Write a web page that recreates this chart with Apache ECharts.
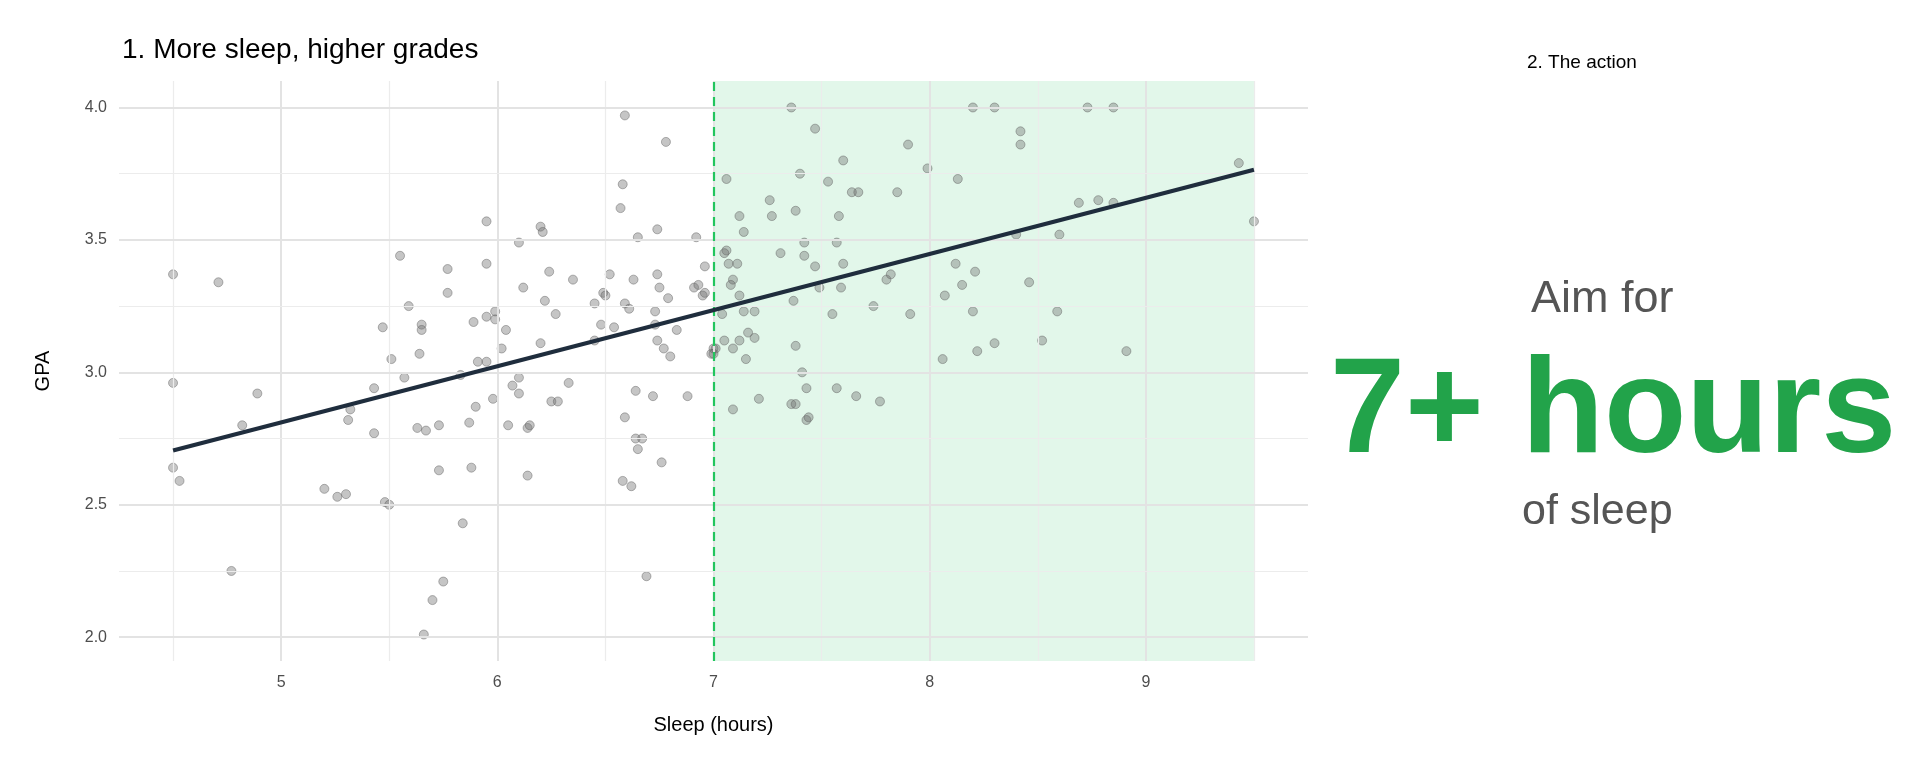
<!DOCTYPE html>
<html><head><meta charset="utf-8">
<script src="https://cdn.jsdelivr.net/npm/echarts@6/dist/echarts.min.js"></script>
<style>html,body{margin:0;padding:0;background:#fff}#c{width:1920px;height:768px}</style>
</head><body><div id="c"></div>
<script>
const sleepHours = [4.5,4.71,4.5,4.89,4.82,4.5,4.53,4.77,5.20,5.26,5.30,5.31,5.32,5.43,5.43,5.47,5.48,5.50,5.51,5.55,5.57,5.59,5.63,5.64,5.65,5.65,5.66,5.67,5.70,5.73,5.73,5.75,5.77,5.77,5.83,5.84,5.87,5.88,5.89,5.90,5.91,5.95,5.95,5.95,5.95,5.98,5.99,5.99,6.02,6.04,6.05,6.07,6.10,6.10,6.10,6.12,6.14,6.15,6.14,6.20,6.20,6.21,6.22,6.24,6.25,6.28,6.27,6.33,6.35,6.45,6.45,6.48,6.49,6.50,6.52,6.54,6.57,6.58,6.59,6.58,6.59,6.59,6.61,6.62,6.63,6.64,6.65,6.64,6.67,6.65,6.69,6.72,6.73,6.73,6.74,6.74,6.74,6.75,6.76,6.77,6.78,6.79,6.80,6.83,6.88,6.91,6.92,6.93,6.95,6.96,6.96,6.99,7.00,
7.36,7.47,7.90,8.20,8.30,8.42,8.42,8.73,8.85,9.43,9.50,7.60,7.99,8.13,7.06,7.40,7.53,7.64,7.67,7.85,7.26,8.69,8.78,8.85,7.12,7.27,7.38,7.58,7.14,8.40,8.60,7.06,7.05,7.31,7.42,7.57,7.42,7.07,7.11,7.47,7.60,8.12,8.21,7.09,7.08,7.80,7.82,8.15,8.46,7.12,7.49,7.59,8.07,7.37,7.74,7.04,7.14,7.19,7.55,7.91,8.20,8.59,7.16,7.19,7.05,7.12,7.09,7.01,7.00,7.38,8.52,8.30,8.22,8.91,7.15,8.06,7.41,7.43,7.57,7.21,7.66,7.77,7.09,7.36,7.38,7.43,7.44];
const gpa = [3.37,3.34,2.96,2.92,2.80,2.64,2.59,2.25,2.56,2.53,2.54,2.82,2.86,2.94,2.77,3.17,2.51,2.50,3.05,3.44,2.98,3.25,2.79,3.07,3.18,3.16,2.01,2.78,2.14,2.80,2.63,2.21,3.39,3.30,2.99,2.43,2.81,2.64,3.19,2.87,3.04,3.04,3.57,3.41,3.21,2.90,3.20,3.23,3.09,3.16,2.80,2.95,3.49,2.98,2.92,3.32,2.79,2.80,2.61,3.11,3.55,3.53,3.27,3.38,2.89,2.89,3.22,2.96,3.35,3.26,3.12,3.18,3.30,3.29,3.37,3.17,3.62,3.71,3.97,2.59,3.26,2.83,3.24,2.57,3.35,2.93,3.51,2.75,2.75,2.71,2.23,2.91,3.23,3.18,3.12,3.37,3.54,3.32,2.66,3.09,3.87,3.28,3.06,3.16,2.91,3.32,3.51,3.33,3.29,3.40,3.30,3.07,3.09,
4.00,3.92,3.86,4.00,4.00,3.91,3.86,4.00,4.00,3.79,3.57,3.80,3.77,3.73,3.73,3.75,3.72,3.68,3.68,3.68,3.65,3.64,3.65,3.64,3.59,3.59,3.61,3.59,3.53,3.52,3.52,3.46,3.45,3.45,3.49,3.49,3.44,3.41,3.41,3.40,3.41,3.41,3.38,3.35,3.33,3.35,3.37,3.33,3.34,3.29,3.32,3.32,3.29,3.27,3.25,3.22,3.23,3.23,3.22,3.22,3.23,3.23,3.15,3.13,3.12,3.12,3.09,3.09,3.07,3.10,3.12,3.11,3.08,3.08,3.05,3.05,3.00,2.94,2.94,2.90,2.91,2.89,2.86,2.88,2.88,2.82,2.83];
const fitLine = [[4.5,2.705],[9.5,3.765]];
const xMajor = [5,6,7,8,9];
const xMinor = [4.5,5.5,6.5,7.5,8.5,9.5];
const yTicks = [2.0,2.5,3.0,3.5,4.0];
const threshold = 7;
const zoneEnd = 9.5;

const pts = sleepHours.map((x,i)=>[x,gpa[i]]);
const FONT = '"Liberation Sans", Arial, sans-serif';
const chart = echarts.init(document.getElementById('c'));
chart.setOption({
  animation:false,
  textStyle:{fontFamily:FONT},
  grid:{left:119,right:1920-1308,top:81,bottom:768-661},
  title:[
    {text:'1. More sleep, higher grades',left:117,top:31,textStyle:{fontSize:28,fontWeight:'normal',color:'#000',fontFamily:FONT}},
    {text:'2. The action',left:1522,top:48,textStyle:{fontSize:19,fontWeight:'normal',color:'#000',fontFamily:FONT}}
  ],
  graphic:[
    {type:'text',left:1531,top:277,style:{text:'Aim for',font:'45px '+FONT,fill:'#555'}},
    {type:'text',left:1330,top:347,style:{text:'7+ hours',font:'bold 135px '+FONT,fill:'#22a34a'}},
    {type:'text',left:1522,top:491,style:{text:'of sleep',font:'43px '+FONT,fill:'#555'}}
  ],
  xAxis:{type:'value',min:4.25,max:9.75,name:'Sleep (hours)',nameLocation:'middle',nameGap:54,
    nameTextStyle:{fontSize:20,color:'#000'},
    axisLine:{show:false},axisTick:{show:false},splitLine:{show:false},
    axisLabel:{customValues:xMajor,fontSize:16,color:'#4d4d4d',margin:14}},
  yAxis:{type:'value',min:1.91,max:4.1,name:'GPA',nameLocation:'middle',nameGap:66,nameRotate:90,
    nameTextStyle:{fontSize:20,color:'#000'},
    axisLine:{show:false},axisTick:{show:false},splitLine:{show:false},
    axisLabel:{customValues:yTicks,fontSize:16,color:'#4d4d4d',margin:12,formatter:v=>v.toFixed(1)}},
  series:[
    {type:'line',data:[],silent:true,
      markLine:{symbol:'none',silent:true,label:{show:false},
        data:[
          ...xMinor.map(v=>({xAxis:v,lineStyle:{color:'#ececec',width:1.2,type:'solid'}})),
          ...xMajor.map(v=>({xAxis:v,lineStyle:{color:'#e3e3e3',width:2,type:'solid'}})),
          ...yTicks.slice(0,-1).map(v=>({yAxis:v+0.25,lineStyle:{color:'#ececec',width:1.2,type:'solid'}})),
          ...yTicks.map(v=>({yAxis:v,lineStyle:{color:'#e3e3e3',width:2,type:'solid'}}))
        ]}},
    {type:'line',data:[],silent:true,z:3,
      markArea:{silent:true,itemStyle:{color:'rgba(34,197,94,0.13)'},data:[[{xAxis:threshold},{xAxis:zoneEnd}]]},
      markLine:{symbol:'none',silent:true,label:{show:false},
        data:[{xAxis:threshold,lineStyle:{color:'#22c55e',width:2.2,type:[9,6]}}]}},
    {type:'scatter',data:pts,symbolSize:9,z:4,
      itemStyle:{color:'rgba(110,110,110,0.5)',borderColor:'rgba(90,90,90,0.55)',borderWidth:1}},
    {type:'line',data:fitLine,symbol:'none',z:5,lineStyle:{color:'#1f2d3d',width:4}}
  ]
});
</script></body></html>
